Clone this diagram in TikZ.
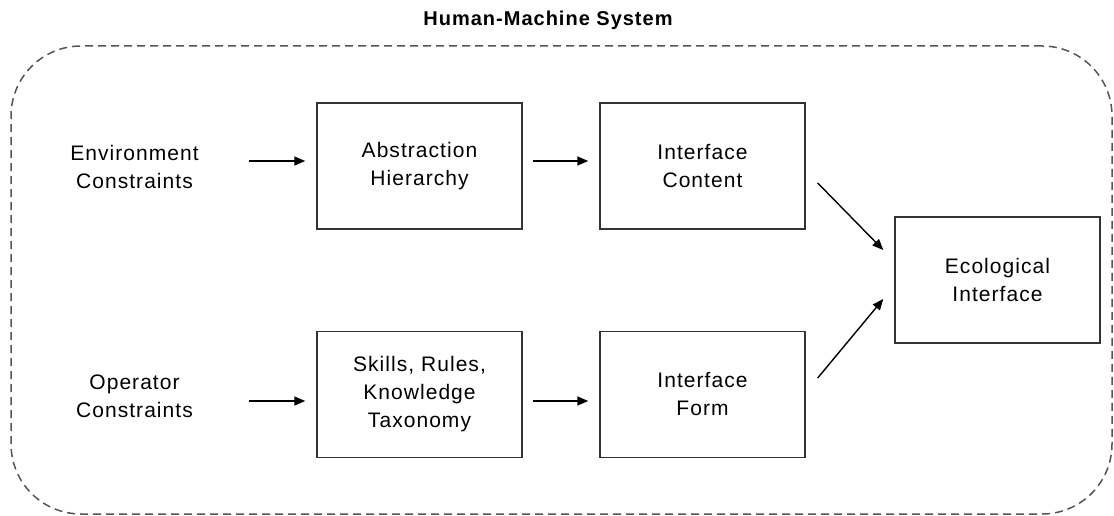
\documentclass[tikz,border=0pt]{standalone}
\usepackage{fontspec}
\setmainfont{Liberation Sans}[LetterSpace=5]
\usepackage{xcolor}
\usetikzlibrary{arrows.meta}

\definecolor{linegray}{HTML}{333333}
\definecolor{dashgray}{HTML}{555555}

\begin{document}
\begin{tikzpicture}[x=1pt,y=-1pt,
	every node/.style={font=\fontsize{21}{28}\selectfont},
	stagebox/.style={draw=linegray,line width=1.4pt,minimum width=205pt,minimum height=126pt,align=center,inner sep=0pt},
	sourcelabel/.style={text width=140pt,align=center,inner sep=0pt},
	hmsframe/.style={draw=dashgray,line width=1.5pt,dash pattern=on 8pt off 5pt,rounded corners=70pt,minimum width=1101pt,minimum height=468pt},
	flow/.style={-{Triangle[length=11pt,width=9pt]},line width=1.4pt,draw=black}]
			\useasboundingbox (0,0) rectangle (1114,516);

			% system boundary
			\node[hmsframe] (hms) at (561.5,280) {};
			\node[font=\fontsize{20}{24}\selectfont\bfseries] (title) at (548,20) {Human-Machine System};

			% constraints
			\node[sourcelabel] (env) at (134.5,167) {Environment\\Constraints};
			\node[sourcelabel] (oper) at (134.5,396) {Operator\\Constraints};

			% stages
			\node[stagebox] (abstr) at (419.5,166) {Abstraction\\Hierarchy};
			\node[stagebox] (content) at (702.5,166) {Interface\\Content};
			\node[stagebox] (srk) at (419.5,394.5) {Skills, Rules,\\Knowledge\\Taxonomy};
			\node[stagebox] (form) at (702.5,394.5) {Interface\\Form};
			\node[stagebox] (eid) at (997.5,280) {Ecological\\Interface};

			% connectors
			\draw[flow] ([xshift=44.5pt,yshift=6pt]env.east) -- ([xshift=-11pt,yshift=5pt]abstr.west);
			\draw[flow] ([xshift=10pt,yshift=5pt]abstr.east) -- ([xshift=-11pt,yshift=5pt]content.west);
			\draw[flow] ([xshift=44.5pt,yshift=-5pt]oper.east) -- ([xshift=-11pt,yshift=-6.5pt]srk.west);
			\draw[flow] ([xshift=10pt,yshift=-6.5pt]srk.east) -- ([xshift=-11pt,yshift=-6.5pt]form.west);
			\draw[flow] ([xshift=12pt,yshift=-17pt]content.east) -- ([xshift=-11pt,yshift=30pt]eid.west);
			\draw[flow] ([xshift=12pt,yshift=16.5pt]form.east) -- ([xshift=-11pt,yshift=-19pt]eid.west);
		\end{tikzpicture}
\end{document}
